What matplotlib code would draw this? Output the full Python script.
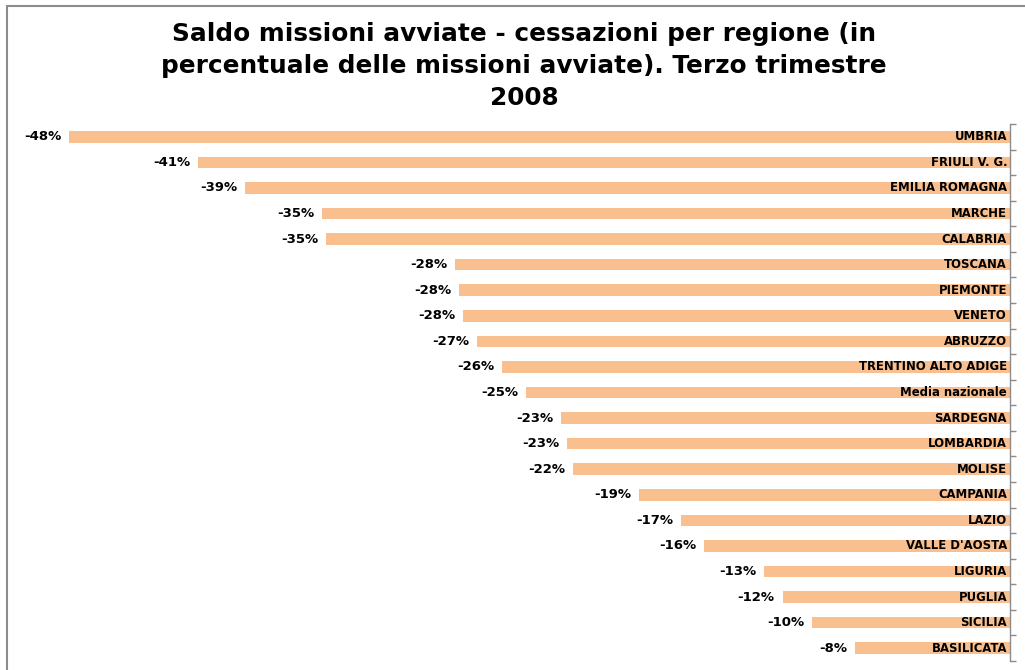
import matplotlib
matplotlib.use("Agg")
import matplotlib.pyplot as plt
from matplotlib.patches import Rectangle
import numpy as np

regions = ["UMBRIA", "FRIULI V. G.", "EMILIA ROMAGNA", "MARCHE", "CALABRIA",
           "TOSCANA", "PIEMONTE", "VENETO", "ABRUZZO", "TRENTINO ALTO ADIGE",
           "Media nazionale", "SARDEGNA", "LOMBARDIA", "MOLISE", "CAMPANIA",
           "LAZIO", "VALLE D'AOSTA", "LIGURIA", "PUGLIA", "SICILIA", "BASILICATA"]
values = [-48.0, -41.4, -39.0, -35.1, -34.9, -28.3, -28.1, -27.9, -27.2, -25.9,
          -24.7, -22.9, -22.6, -22.3, -18.9, -16.8, -15.6, -12.55, -11.6, -10.1, -7.9]
title = "Saldo missioni avviate - cessazioni per regione (in\npercentuale delle missioni avviate). Terzo trimestre\n2008"

W, H = 1025, 670
fig = plt.figure(figsize=(W / 100, H / 100), dpi=100)
fig.patch.set_facecolor("white")

# outer frame
fig.add_artist(Rectangle((6.5 / W, -0.1), 1.2, 1 - 5.5 / H + 0.1, transform=fig.transFigure,
                         fill=False, edgecolor="#8c8c8c", linewidth=1.5))

left, right = 20, 1010
top, bottom = 124, 661
ax = fig.add_axes([left / W, 1 - bottom / H, (right - left) / W, (bottom - top) / H])

bar_color = "#F9BF8F"
y = np.arange(len(regions))
ax.barh(y, values, height=0.45, color=bar_color, edgecolor="none")

scale = 48.0 / (1010 - 69)
ax.set_xlim(-(right - left) * scale, 0)
ax.set_ylim(len(regions) - 0.5, -0.5)

for yi, v, name in zip(y, values, regions):
    ax.text(v - 0.4, yi, f"{round(v):d}%", ha="right", va="center",
            fontsize=9.5, fontweight="bold", color="black")
    ax.text(-0.15, yi, name, ha="right", va="center",
            fontsize=8.4, fontweight="bold", color="black")

for s in ["left", "top", "bottom"]:
    ax.spines[s].set_visible(False)
ax.spines["right"].set_color("#8c8c8c")
ax.spines["right"].set_linewidth(1.0)
ax.set_xticks([])
ax.yaxis.tick_right()
ax.set_yticks(np.arange(-0.5, len(regions), 1.0))
ax.set_yticklabels([])
ax.tick_params(axis="y", direction="out", length=4, color="#8c8c8c", width=1.0)

fig.text(524 / W, 1 - 22 / H, title, ha="center", va="top", fontsize=17.8,
         fontweight="bold", linespacing=1.42)

fig.savefig("out.png", dpi=100)
